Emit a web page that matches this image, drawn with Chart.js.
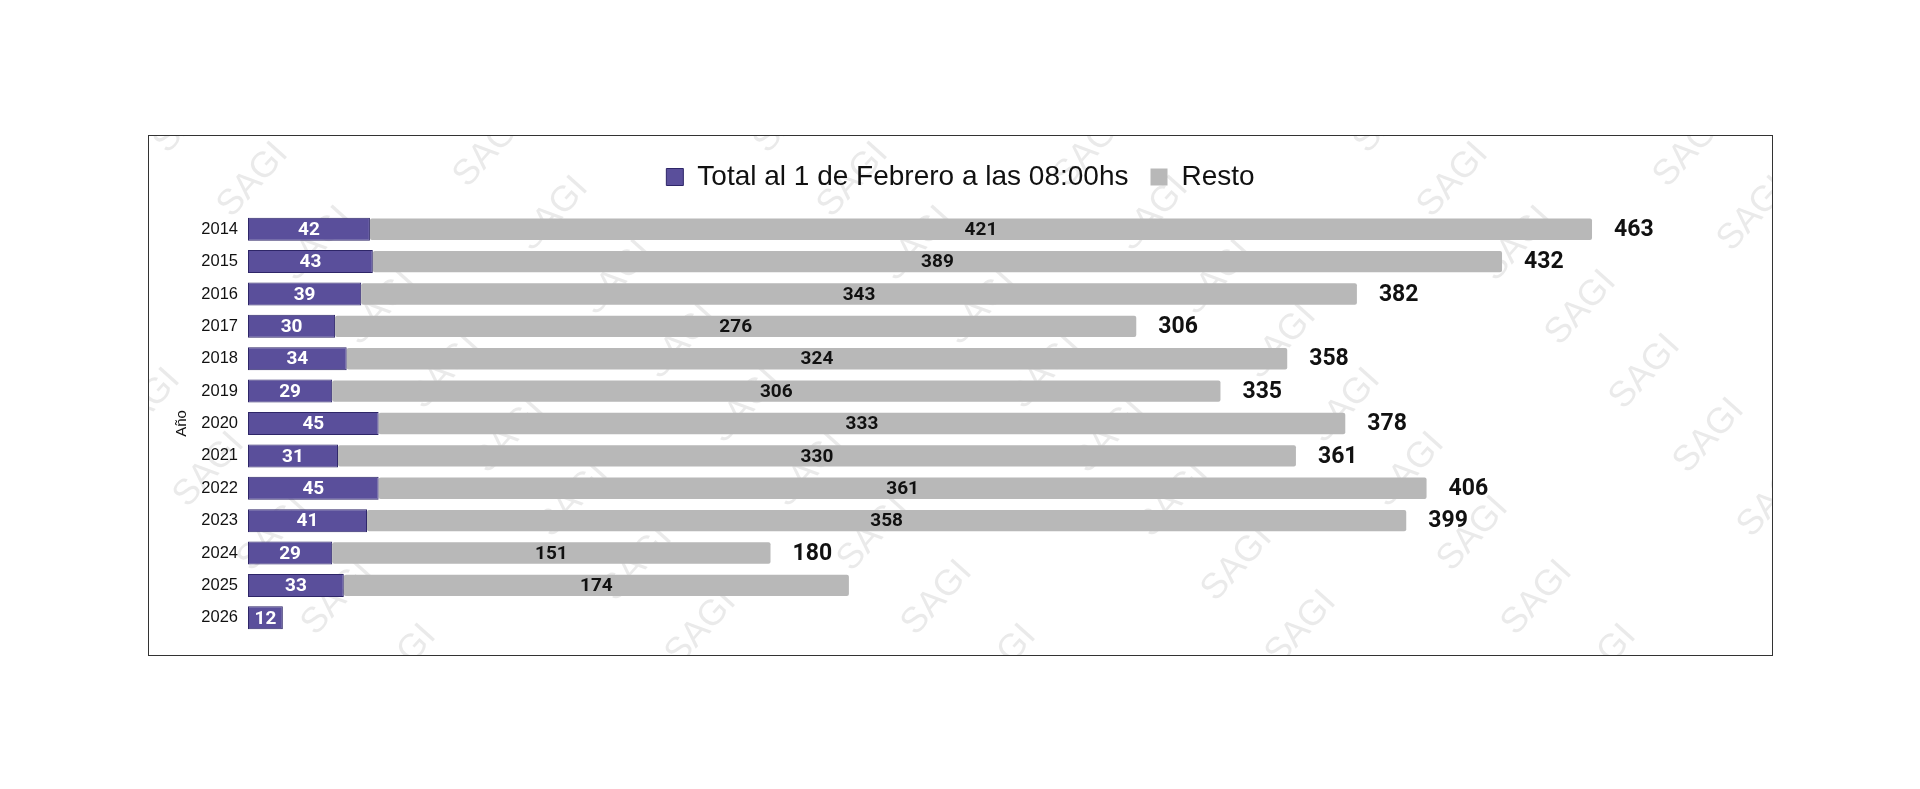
<!DOCTYPE html>
<html>
<head>
<meta charset="utf-8">
<script src="https://cdn.jsdelivr.net/npm/chart.js@4.4.1/dist/chart.umd.min.js"></script>
<style>
    html, body { margin: 0; padding: 0; background: #fff; }
    #box {
        position: absolute;
        left: 148px; top: 135px;
        width: 1623px; height: 519px;
        border: 1px solid #333;
        background: #fff;
    }
    #box canvas { display: block; }
</style>
</head>
<body>
<div id="box"><canvas id="chart" width="1623" height="519"></canvas></div>
<script>
// Datos
const years = ['2014', '2015', '2016', '2017', '2018', '2019', '2020', '2021', '2022', '2023', '2024', '2025', '2026'];
const firstFeb = [42, 43, 39, 30, 34, 29, 45, 31, 45, 41, 29, 33, 12];
const rest = [421, 389, 343, 276, 324, 306, 333, 330, 361, 358, 151, 174, null];
const totals = [463, 432, 382, 306, 358, 335, 378, 361, 406, 399, 180, null, null];

const PURPLE = '#5a4f9b';
const GRAY = '#b8b8b8';

// marca de agua "SAGI" de fondo
const watermark = {
    id: 'watermark',
    beforeDraw(chart) {
        const ctx = chart.ctx;
        ctx.save();
        ctx.fillStyle = 'rgba(150,150,150,0.2)';
        ctx.font = '36px "Liberation Sans", Arial, sans-serif';
        ctx.textAlign = 'center';
        ctx.textBaseline = 'middle';
        for (let s = -3; s < 7; s++) {
            for (let k = 0; k < 9; k++) {
                const x = 40 + s * 300 + k * 64;
                const y = -20 + k * 64 + (s % 2 === 0 ? 0 : 34);
                ctx.save();
                ctx.translate(x, y);
                ctx.rotate(-48 * Math.PI / 180);
                ctx.fillText('SAGI', 0, 0);
                ctx.restore();
            }
        }
        ctx.restore();
    }
};

// etiquetas dentro de las barras y total al final
const barLabels = {
    id: 'barLabels',
    afterDatasetsDraw(chart) {
        const ctx = chart.ctx;
        ctx.save();
        ctx.textBaseline = 'middle';
        ctx.textAlign = 'center';
        chart.data.datasets.forEach((ds, i) => {
            const meta = chart.getDatasetMeta(i);
            ctx.fillStyle = i === 0 ? '#ffffff' : '#111111';
            ctx.font = 'bold 19px Roboto, "Liberation Sans", sans-serif';
            meta.data.forEach((bar, j) => {
                if (ds.data[j] == null) return;
                ctx.fillText(ds.data[j], (bar.x + bar.base) / 2, bar.y + 1);
            });
        });
        const m0 = chart.getDatasetMeta(0);
        const m1 = chart.getDatasetMeta(1);
        ctx.fillStyle = '#111111';
        ctx.textAlign = 'left';
        ctx.font = 'bold 23px Roboto, "Liberation Sans", sans-serif';
        totals.forEach((t, j) => {
            if (t == null) return;
            const end = rest[j] != null ? m1.data[j].x : m0.data[j].x;
            ctx.fillText(t, end + 22, m0.data[j].y + 1);
        });
        ctx.restore();
    }
};

new Chart(document.getElementById('chart'), {
    type: 'bar',
    data: {
        labels: years,
        datasets: [
            {
                label: 'Total al 1 de Febrero a las 08:00hs',
                data: firstFeb,
                backgroundColor: PURPLE,
                borderColor: '#2e2668',
                borderWidth: 1,
                borderSkipped: false,
                categoryPercentage: 0.71,
                barPercentage: 1
            },
            {
                label: 'Resto',
                data: rest,
                backgroundColor: GRAY,
                borderWidth: 0,
                borderRadius: 2,
                borderSkipped: false,
                categoryPercentage: 0.66,
                barPercentage: 1
            }
        ]
    },
    options: {
        indexAxis: 'y',
        responsive: false,
        animation: false,
        layout: { padding: { top: 5, right: 0, bottom: 21, left: 0 } },
        plugins: {
            legend: {
                position: 'top',
                labels: {
                    boxWidth: 17,
                    boxHeight: 17,
                    padding: 22,
                    color: '#111',
                    font: { family: '"Liberation Sans", Arial, sans-serif', size: 28 }
                }
            },
            // espacio entre la leyenda y las barras
            subtitle: {
                display: true,
                text: '',
                weight: 900,
                padding: 0,
                font: { size: 12, lineHeight: 1 }
            },
            tooltip: { enabled: false }
        },
        scales: {
            x: {
                stacked: true,
                min: 0,
                max: 525,
                display: false
            },
            y: {
                stacked: true,
                grid: { display: false, drawTicks: false },
                border: { display: false },
                ticks: {
                    padding: 10,
                    color: '#111',
                    font: { family: '"Liberation Sans", Arial, sans-serif', size: 16.5 }
                },
                title: {
                    display: true,
                    text: 'Año',
                    color: '#111',
                    padding: { top: 24, bottom: 0 },
                    font: { family: '"Liberation Sans", Arial, sans-serif', size: 15 }
                },
                afterFit(scale) { scale.width = 99; }
            }
        }
    },
    plugins: [watermark, barLabels]
});
</script>
</body>
</html>
